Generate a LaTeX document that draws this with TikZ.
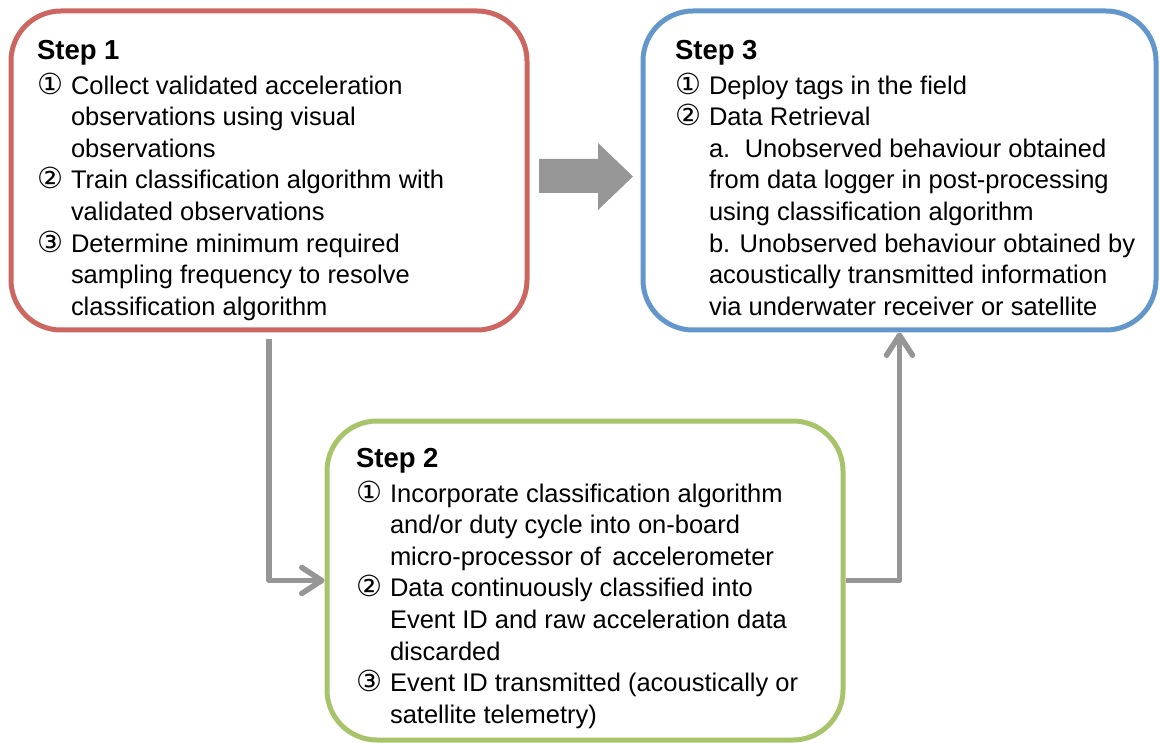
\documentclass[tikz,border=0pt]{standalone}
\usepackage{fontspec}
\setmainfont{Liberation Sans}
\newfontfamily\symfont{DejaVu Sans}
\usetikzlibrary{arrows.meta,calc}
\definecolor{boxred}{HTML}{CC6660}
\definecolor{boxblue}{HTML}{6397CC}
\definecolor{boxgreen}{HTML}{A8C46A}
\definecolor{arrgray}{HTML}{969696}
\newcommand\cnum[1]{\makebox[34pt][l]{\symfont\fontsize{29}{31.6}\selectfont #1}}
\newcommand\stephead[1]{\multicolumn{2}{@{}l@{}}{\bfseries\fontsize{27.5}{31.6}\selectfont #1}}
\tikzset{
  stepbox/.style={draw, line width=5pt, rounded corners=50pt, minimum width=516pt, minimum height=319pt, inner sep=0pt},
  txt/.style={anchor=north west, inner sep=0pt, outer sep=0pt, font=\fontsize{25.5}{31.6}\selectfont, text=black},
  conn/.style={draw=arrgray, line width=5.5pt, line join=round, -{Straight Barb[length=20pt,width=26pt,line cap=round,line join=round]}},
}
\begin{document}
\begin{tikzpicture}[x=1pt,y=-1pt]
\useasboundingbox (0,0) rectangle (1160,743);
\node[stepbox, draw=boxred] (s1) at (269,170.5) {};
\node[stepbox, draw=boxblue, minimum width=513pt] (s3) at (899.5,170.5) {};
\node[stepbox, draw=boxgreen] (s2) at (585,580.5) {};

\node[txt] (t1) at (37,36.9) {\begin{tabular}{@{}l@{}l@{}}
\stephead{Step 1}\\[3.4pt]
\cnum{①} & Collect validated acceleration\\
 & observations using visual\\
 & observations\\
\cnum{②} & Train classification algorithm with\\
 & validated observations\\
\cnum{③} & Determine minimum required\\
 & sampling frequency to resolve\\
 & classification algorithm
\end{tabular}};

\node[txt] (t3) at (675,36.9) {\begin{tabular}{@{}l@{}l@{}}
\stephead{Step 3}\\[3.4pt]
\cnum{①} & Deploy tags in the field\\
\cnum{②} & Data Retrieval\\
 & a.\hspace{0.2em} Unobserved behaviour obtained\\
 & from data logger in post-processing\\
 & using classification algorithm\\
 & b. Unobserved behaviour obtained by\\
 & acoustically transmitted information\\
 & via underwater receiver or satellite
\end{tabular}};

\node[txt] (t2) at (356,444.9) {\begin{tabular}{@{}l@{}l@{}}
\stephead{Step 2}\\[3.4pt]
\cnum{①} & Incorporate classification algorithm\\
 & and/or duty cycle into on-board\\
 & micro-processor of\, accelerometer\\
\cnum{②} & Data continuously classified into\\
 & Event ID and raw acceleration data\\
 & discarded\\
\cnum{③} & Event ID transmitted (acoustically or\\
 & satellite telemetry)
\end{tabular}};

\fill[arrgray] (539,159) -- (598,159) -- (598,143) -- (633,176.5) -- (598,210) -- (598,193) -- (539,193) -- cycle;

\coordinate (c1) at ($(s1.south)+(0,7)$);
\draw[conn] (c1) |- (s2.west);
\draw[conn] (s2.east) -| (s3.south);
\end{tikzpicture}
\end{document}
